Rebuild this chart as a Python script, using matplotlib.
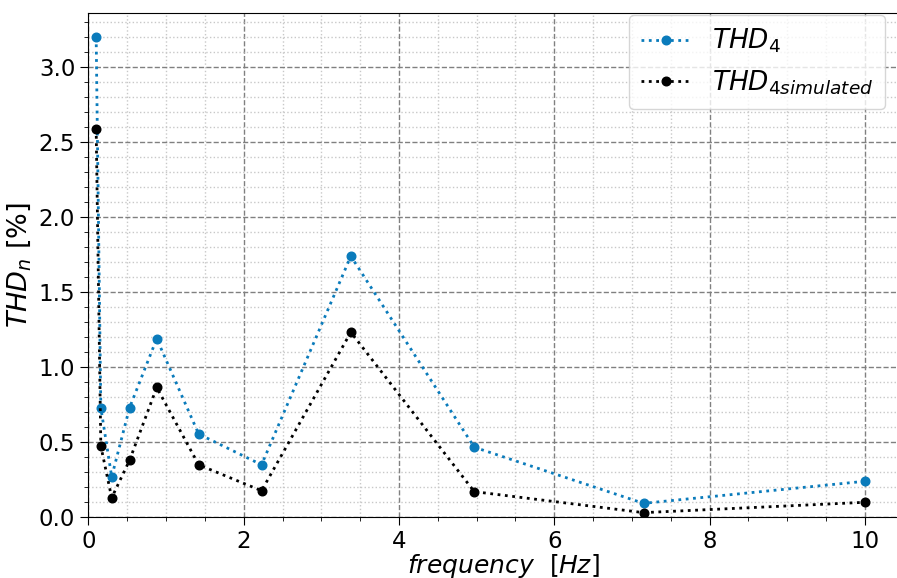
import matplotlib
matplotlib.use("Agg")
import matplotlib.pyplot as plt
from matplotlib.ticker import MultipleLocator

freq = [0.1, 0.16, 0.30, 0.53, 0.88, 1.42, 2.23, 3.38, 4.97, 7.15, 10.0]
thd4 = [3.2, 0.73, 0.27, 0.73, 1.19, 0.555, 0.35, 1.74, 0.467, 0.093, 0.24]
thd4_sim = [2.59, 0.475, 0.13, 0.38, 0.865, 0.35, 0.177, 1.233, 0.171, 0.031, 0.10]

fig = plt.figure(figsize=(8.97, 5.78), dpi=100)
# right spine sits outside the picture, as in the original crop
ax = fig.add_axes([88.4 / 897, 60.7 / 578, 830 / 897, 504.3 / 578])

ax.plot(freq, thd4, ':', marker='o', color='#0A7BBB', lw=2, ms=6.2, label='$THD_4$')
ax.plot(freq, thd4_sim, ':', marker='o', color='black', lw=2, ms=6.2,
        label='$THD_{4simulated}$')

ax.set_xlim(0, 10.69)
ax.set_ylim(0, 3.36)
ax.xaxis.set_major_locator(MultipleLocator(2))
ax.xaxis.set_minor_locator(MultipleLocator(0.5))
ax.yaxis.set_major_locator(MultipleLocator(0.5))
ax.yaxis.set_minor_locator(MultipleLocator(0.1))
ax.grid(which='major', ls='--', color='#808080', lw=1)
ax.grid(which='minor', ls=':', color='#c8c8c8', lw=1)
ax.set_axisbelow(True)
ax.tick_params(which='major', labelsize=16.5, length=6)
ax.tick_params(which='minor', length=3)

ax.set_xlabel(r'$frequency\ \ [Hz]$', fontsize=18, labelpad=-1)
ax.set_ylabel(r'$THD_n$ [%]', fontsize=19.5)

ax.legend(loc='upper right', fontsize=19, handlelength=1.9, borderpad=0.45,
          labelspacing=0.5, borderaxespad=0,
          bbox_to_anchor=(885 / 897, 1 - 15 / 578),
          bbox_transform=fig.transFigure)

fig.savefig('out.png', dpi=100)
